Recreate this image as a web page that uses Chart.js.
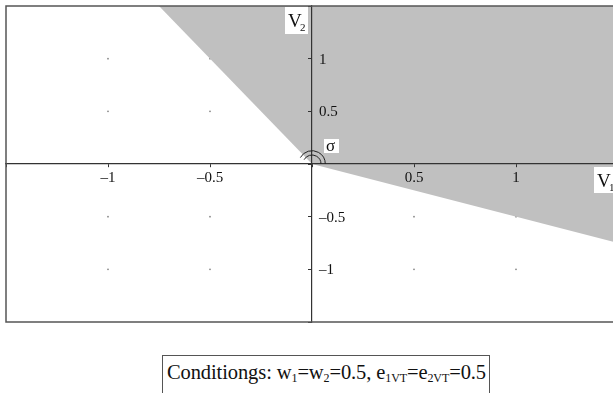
<!DOCTYPE html>
<html>
<head>
<meta charset="utf-8">
<script src="https://cdn.jsdelivr.net/npm/chart.js@4/dist/chart.umd.min.js"></script>
<style>
  html, body { margin: 0; padding: 0; background: #fff; overflow: hidden; width: 613px; height: 393px; }
  #wrap { position: absolute; left: 0; top: 0; width: 620px; height: 330px; }
  #cond {
    position: absolute; left: 162px; top: 355px; width: 328px; height: 44px;
    border: 1px solid #555; box-sizing: border-box;
    font-family: 'Liberation Serif', serif; font-size: 20.5px; color: #111;
    padding: 5px 0 0 4px; white-space: nowrap; letter-spacing: -0.1px;
  }
  #cond sub { font-size: 12px; vertical-align: -3px; line-height: 0; }
</style>
</head>
<body>
<div id="wrap"><canvas id="chart"></canvas></div>
<div id="cond">Conditiongs: w<sub>1</sub>=w<sub>2</sub>=0.5, e<sub>1VT</sub>=e<sub>2VT</sub>=0.5</div>
<script>
// axis range and ticks
const xRange = [-1.5, 1.5];
const yRange = [-1.5, 1.5];
const gridX = [-1, -0.5, 0.5, 1];
const gridY = [-1, -0.5, 0.5, 1];

// shaded region (V2 >= -2 V1 on the left, V2 >= -0.5 V1 on the right)
const regionX = [-0.75, 0, 1.5, 1.5];
const regionY = [1.5, 0, -0.75, 1.5];

const serif = "'Liberation Serif', 'Times New Roman', serif";

function fmt(v) {
    if (v === 0 || Math.abs(v) === 1.5) return '';
    const s = String(Math.abs(v));
    return v < 0 ? '\u2013' + s : s;
}

const gridDots = [];
gridX.forEach(gx => gridY.forEach(gy => gridDots.push({ x: gx, y: gy })));

const regionPts = regionX.map((x, i) => ({ x: x, y: regionY[i] }));

const decor = {
    id: 'decor',
    afterDraw(chart) {
        const ctx = chart.ctx;
        const a = chart.chartArea;
        const xs = chart.scales.x, ys = chart.scales.y;
        const x0 = xs.getPixelForValue(0), y0 = ys.getPixelForValue(0);

        ctx.save();
        // frame
        ctx.strokeStyle = '#555';
        ctx.lineWidth = 1.5;
        ctx.strokeRect(a.left, a.top, a.right - a.left, a.bottom - a.top);

        // y tick labels, right of the vertical axis
        ctx.fillStyle = '#111';
        ctx.font = '15px ' + serif;
        ctx.textAlign = 'left';
        ctx.textBaseline = 'middle';
        ys.ticks.forEach(t => {
            const lab = fmt(t.value);
            if (lab) ctx.fillText(lab, x0 + 7, ys.getPixelForValue(t.value) + 1);
        });

        // double arc for sigma
        ctx.strokeStyle = '#222';
        ctx.lineWidth = 1;
        [9, 13.3].forEach(r => {
            ctx.beginPath();
            ctx.arc(x0, y0, r, Math.PI * 1.16, Math.PI * 2);
            ctx.stroke();
        });

        ctx.textBaseline = 'alphabetic';
        // sigma label
        ctx.fillStyle = '#fff';
        ctx.fillRect(x0 + 12, y0 - 25, 15, 14);
        ctx.fillStyle = '#111';
        ctx.font = '17px ' + serif;
        ctx.fillText('\u03c3', x0 + 14, y0 - 13);

        // V2 label
        ctx.fillStyle = '#fff';
        ctx.fillRect(x0 - 27, a.top + 1, 23, 27);
        ctx.fillStyle = '#111';
        ctx.font = '19px ' + serif;
        ctx.fillText('V', x0 - 24, a.top + 21);
        ctx.font = '11px ' + serif;
        ctx.fillText('2', x0 - 12, a.top + 25);

        // V1 label
        const xr = xs.getPixelForValue(1.5);
        ctx.fillStyle = '#fff';
        ctx.fillRect(xr - 24, y0 + 3, 24, 26);
        ctx.fillStyle = '#111';
        ctx.font = '19px ' + serif;
        ctx.fillText('V', xr - 21, y0 + 23);
        ctx.font = '11px ' + serif;
        ctx.fillText('1', xr - 9, y0 + 27);
        ctx.restore();
    }
};

new Chart(document.getElementById('chart'), {
    type: 'scatter',
    data: {
        datasets: [
            {
                type: 'line',
                data: regionPts,
                fill: 'shape',
                showLine: true,
                borderWidth: 0,
                borderColor: 'rgba(0,0,0,0)',
                backgroundColor: '#c0c0c0',
                pointRadius: 0,
                tension: 0,
                order: 1
            },
            {
                data: gridDots,
                pointRadius: 0.9,
                pointBorderWidth: 0,
                pointBackgroundColor: '#888',
                order: 2
            }
        ]
    },
    options: {
        responsive: true,
        maintainAspectRatio: false,
        animation: false,
        layout: { autoPadding: false, padding: { left: 6, top: 6, right: 2, bottom: 8 } },
        plugins: { legend: { display: false }, tooltip: { enabled: false } },
        scales: {
            x: {
                type: 'linear',
                min: xRange[0], max: xRange[1],
                position: { y: 0 },
                border: { color: '#333', width: 1.2, z: 2 },
                grid: { drawOnChartArea: false, drawTicks: true, tickLength: 3, color: '#333', z: 2 },
                ticks: {
                    stepSize: 0.5, autoSkip: false, maxRotation: 0, z: 2,
                    padding: 2, color: '#111',
                    font: { family: serif, size: 15 },
                    callback: v => fmt(v)
                }
            },
            y: {
                type: 'linear',
                min: yRange[0], max: yRange[1],
                position: { x: 0 },
                border: { color: '#333', width: 1.2, z: 2 },
                grid: { drawOnChartArea: false, drawTicks: true, tickLength: 3, color: '#333', z: 2 },
                ticks: {
                    stepSize: 0.5, autoSkip: false, z: 2,
                    display: false
                }
            }
        }
    },
    plugins: [decor]
});
</script>
</body>
</html>
